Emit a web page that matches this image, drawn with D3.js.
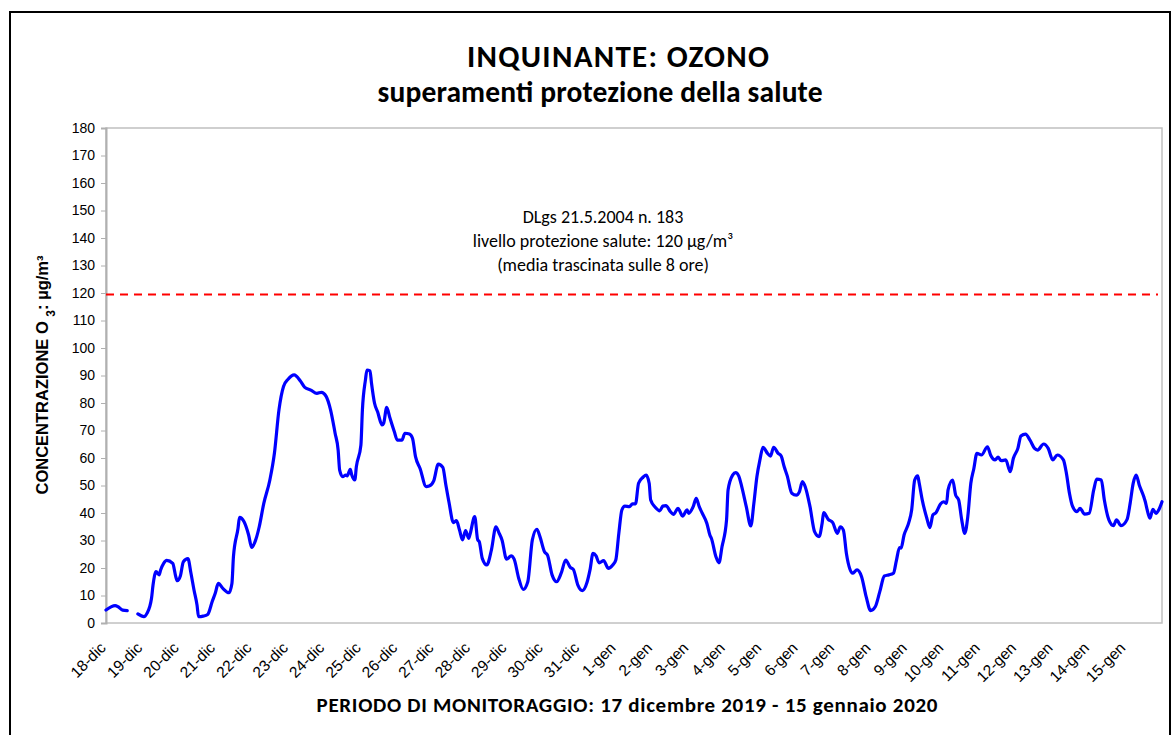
<!DOCTYPE html>
<html>
<head>
<meta charset="utf-8">
<script src="https://cdn.jsdelivr.net/npm/d3@7"></script>
<style>
  body { margin: 0; background: #fff; }
  svg text { fill: #000; }
</style>
</head>
<body>
<script>
// ore trascorse dalle 00:00 del 18-dic, media mobile 8 ore O3 (µg/m³)
var ore = [0, 6, 8, 11, 14, 17,
  21, 25, 27, 30, 31, 33, 35, 36, 38, 40, 44, 46, 47, 49, 51, 54, 56, 58, 60, 61, 64, 67, 70, 72, 74, 77, 81, 83, 84, 87, 88, 91, 94, 96, 98,
  101, 104, 108, 111, 114, 117, 120, 124, 128, 131, 135, 139, 142, 145, 148, 151, 153, 154, 156, 158, 159, 161, 162, 164, 165, 168, 169,
  171, 172, 174, 175, 177, 179, 182, 183, 185, 187, 190, 192, 195, 197, 200, 202, 204, 207, 211, 213, 216, 219, 222, 224, 226, 229, 231,
  233, 235, 237, 239, 240, 243, 245, 246, 248, 251, 254, 257, 259, 261, 264, 267, 269, 272, 275, 278, 281, 284, 286, 289, 291, 294, 297,
  300, 303, 306, 308, 311, 314, 317, 319, 321, 323, 325, 328, 331, 334, 336, 338, 340, 342, 345, 347, 349, 351, 354, 356, 358, 359, 362,
  365, 367, 369, 372, 374, 377, 380, 383, 384, 387, 389, 391, 393, 396, 398, 399, 402, 404, 406, 409, 410, 413, 415, 417, 419, 422, 425,
  427, 429, 431, 433, 436, 438, 440, 443, 445, 447, 449, 452, 455, 457, 459, 461, 464, 467, 470, 472, 473, 476, 479, 482, 484, 486, 488,
  492, 495, 498, 501, 504, 507, 510, 513, 516, 519, 521, 523, 524, 526, 529, 531, 533, 535, 536, 538, 541, 543, 545, 547, 550, 552, 554,
  555, 558, 560, 562, 564, 566, 568, 570, 572, 574, 577, 581, 583, 586, 588, 590, 593, 596, 598, 601, 603, 606, 609, 612, 614, 618, 621,
  624, 627, 631, 633, 635, 637, 640, 642, 645, 648, 651, 653, 656, 658, 661, 664, 666, 669, 673, 675, 677, 679, 681, 684, 685, 686, 688,
  690, 692, 694, 696];
var o3 = [4.7, 6.3, 5.9, 4.7, 4.5, null,
  3.3, 2.3, 3.5, 9, 13.8, 18.7, 17.5, 19.3, 21.7, 22.8, 21.7, 16.8, 15.4, 17.1, 22.3, 23.4, 18.1, 12, 6.5, 2.3, 2.5, 3.1, 7.8, 10.8, 14.4, 12.6, 11, 14.4, 24.1, 34.4, 38.4, 36.8, 32, 27.5, 29.2,
  35, 43.5, 52, 61.7, 77.5, 86, 88.6, 90.2, 88.1, 85.7, 84.7, 83.5, 83.9, 82.5, 77.5, 69, 62.9, 55.6, 53.2, 53.8, 53.5, 55.9, 53.8, 52, 56.8, 64.7, 77.5,
  88.4, 92, 91.7, 87.2, 79.9, 76.8, 72, 72.6, 78.4, 74.8, 69.6, 66.5, 66.5, 69, 68.7, 67.2, 60.5, 56.2, 49.6, 49.8, 51.7, 57.8, 56.6, 50.2, 44.1, 36.5, 37.2,
  33.8, 30.2, 33.6, 30.8, 32.4, 38.7, 30.2, 29.6, 23.5, 21.1, 26.5, 35, 32.8, 30.2, 23.2, 24.4, 23.2, 16.3, 12.2, 15, 30.2, 34.1, 31.4, 25.9, 24.7, 17.5, 15,
  18.1, 22.9, 20.2, 19.5, 13.8, 11.8, 14.7, 19.3, 25.3, 24.4, 21.9, 22.7, 19.9, 21.1, 22.9, 32.6, 41.1, 42.5, 42.3, 43.3, 43.3, 50.8, 53, 53.8, 50.8, 44.7, 42.1,
  40.8, 42.5, 42.7, 40.5, 39.5, 41.7, 38.9, 41.1, 39.9, 42.3, 45.3, 42.3, 39.9, 36.3, 32, 30.8, 24.1, 21.9, 27.7, 37.5, 48.4, 53.8, 54.7, 53.5, 49.6, 42.3, 35.3,
  43.5, 53.2, 59.3, 63.9, 61.7, 60.7, 63.9, 61.7, 60.7, 56.8, 53.5, 47.2, 46.5, 47.7, 51.4, 49.3, 42.3, 33.2, 31.4, 36.3, 40.1, 37.7, 36.5, 32.6, 35, 33.8, 25.3,
  18.1, 19.3, 16.8, 9.6, 4.5, 5.9, 11.4, 17.1, 17.5, 18.1, 22.9, 27.4, 27.2, 32, 36.3, 41.1, 52, 53.5, 50.8, 44.7, 38.1, 34.7, 39.3, 40.1, 43.3, 44.1, 43.5,
  48.4, 52, 46.5, 44.7, 37.5, 32.6, 38.7, 50.8, 56.2, 61.7, 61.1, 64.1, 61.1, 59.3, 60.3, 59, 59.3, 55, 59.8, 63.5, 68, 68.7, 66.5, 63.5, 62.9, 65.1, 63.5,
  59.3, 61.1, 59.3, 54.4, 47.2, 42.5, 40.5, 41.7, 39.6, 39.9, 48.4, 52.3, 52, 44.7, 37.5, 35.4, 37.5, 35.4, 37.7, 43.5, 50.8, 53.8, 50.2, 45.9, 44.1, 41.7, 38.1,
  41.3, 39.9, 41.3, 44.1];

var giorni = ["18-dic", "19-dic", "20-dic", "21-dic", "22-dic", "23-dic", "24-dic", "25-dic", "26-dic", "27-dic", "28-dic",
  "29-dic", "30-dic", "31-dic", "1-gen", "2-gen", "3-gen", "4-gen", "5-gen", "6-gen", "7-gen", "8-gen", "9-gen", "10-gen",
  "11-gen", "12-gen", "13-gen", "14-gen", "15-gen"];
var yTicks = d3.range(0, 181, 10);
var limite = 119.5;
var nota = ["DLgs 21.5.2004 n. 183", "livello protezione salute: 120 µg/m³", "(media trascinata sulle 8 ore)"];

var W = 1173, H = 735;
var pLeft = 106, pRight = 1162, pTop = 128, pBottom = 623;

var svg = d3.select("body").append("svg")
  .attr("width", W)
  .attr("height", H);

svg.append("rect")
  .attr("x", 10).attr("y", 12)
  .attr("width", 1160).attr("height", 740)
  .attr("fill", "none")
  .attr("stroke", "#000")
  .attr("stroke-width", 2);

var x = d3.scaleLinear().domain([0, 696]).range([pLeft, pRight]);
var y = d3.scaleLinear().domain([0, 180]).range([pBottom, pTop]);

// titolo
var tFont = "Carlito, Lato, sans-serif";
svg.append("text")
  .attr("x", 618).attr("y", 67)
  .attr("text-anchor", "middle")
  .attr("font-family", tFont).attr("font-weight", "bold").attr("font-size", 31)
  .attr("textLength", 302).attr("lengthAdjust", "spacing")
  .text("INQUINANTE: OZONO");
svg.append("text")
  .attr("x", 600).attr("y", 102)
  .attr("text-anchor", "middle")
  .attr("font-family", tFont).attr("font-weight", "bold").attr("font-size", 29.5)
  .attr("textLength", 445).attr("lengthAdjust", "spacing")
  .text("superamenti protezione della salute");

// cornice area grafico
svg.append("rect")
  .attr("x", pLeft).attr("y", pTop)
  .attr("width", pRight - pLeft).attr("height", pBottom - pTop)
  .attr("fill", "none")
  .attr("stroke", "#c0c0c0")
  .attr("stroke-width", 1.5);

// asse y
var yAxis = svg.append("g")
  .attr("transform", `translate(${pLeft},0)`)
  .call(d3.axisLeft(y).tickValues(yTicks).tickSize(5).tickPadding(6));
yAxis.select(".domain").attr("stroke", "#b0b0b0").attr("stroke-width", 2);
yAxis.selectAll(".tick line").attr("stroke", "#b0b0b0");
yAxis.selectAll(".tick text")
  .attr("font-family", "Liberation Sans, Arial, sans-serif")
  .attr("font-size", 14)
  .attr("fill", "#000");

// asse x (etichette ruotate)
svg.append("g").selectAll("text")
  .data(giorni)
  .join("text")
  .attr("transform", (d, i) => `translate(${x(i * 24) - 3},${pBottom + 22}) rotate(-45)`)
  .attr("text-anchor", "end")
  .attr("dy", "0.35em")
  .attr("font-family", "Liberation Sans, Arial, sans-serif")
  .attr("font-size", 15.5)
  .text(d => d);

// linea limite
svg.append("line")
  .attr("x1", pLeft).attr("x2", pRight - 4)
  .attr("y1", y(limite)).attr("y2", y(limite))
  .attr("stroke", "#ff0000")
  .attr("stroke-width", 2)
  .attr("stroke-dasharray", "8,6");

// nota
svg.append("g").selectAll("text")
  .data(nota)
  .join("text")
  .attr("x", 603)
  .attr("y", (d, i) => 223 + i * 24)
  .attr("text-anchor", "middle")
  .attr("font-family", tFont)
  .attr("font-size", 18)
  .text(d => d);

// serie
var punti = ore.map((h, i) => ({ h: h, v: o3[i] }));
var line = d3.line()
  .defined(d => d.v !== null)
  .x(d => x(d.h))
  .y(d => y(d.v))
  .curve(d3.curveMonotoneX);

svg.append("path")
  .datum(punti)
  .attr("fill", "none")
  .attr("stroke", "#0000ff")
  .attr("stroke-width", 3.2)
  .attr("stroke-linejoin", "round")
  .attr("stroke-linecap", "round")
  .attr("d", line);

// titolo asse y
var yt = svg.append("text")
  .attr("transform", "translate(48,375) rotate(-90)")
  .attr("text-anchor", "middle")
  .attr("font-family", "Liberation Sans, Arial, sans-serif")
  .attr("font-weight", "bold")
  .attr("font-size", 16.5);
yt.append("tspan").text("CONCENTRAZIONE O ");
yt.append("tspan").attr("baseline-shift", "sub").attr("font-size", 12).text("3");
yt.append("tspan").text(": µg/m³");

// titolo asse x
svg.append("text")
  .attr("x", 627).attr("y", 712)
  .attr("text-anchor", "middle")
  .attr("font-family", tFont).attr("font-weight", "bold").attr("font-size", 21)
  .attr("textLength", 621).attr("lengthAdjust", "spacing")
  .text("PERIODO DI MONITORAGGIO: 17 dicembre 2019 - 15 gennaio 2020");
</script>
</body>
</html>
